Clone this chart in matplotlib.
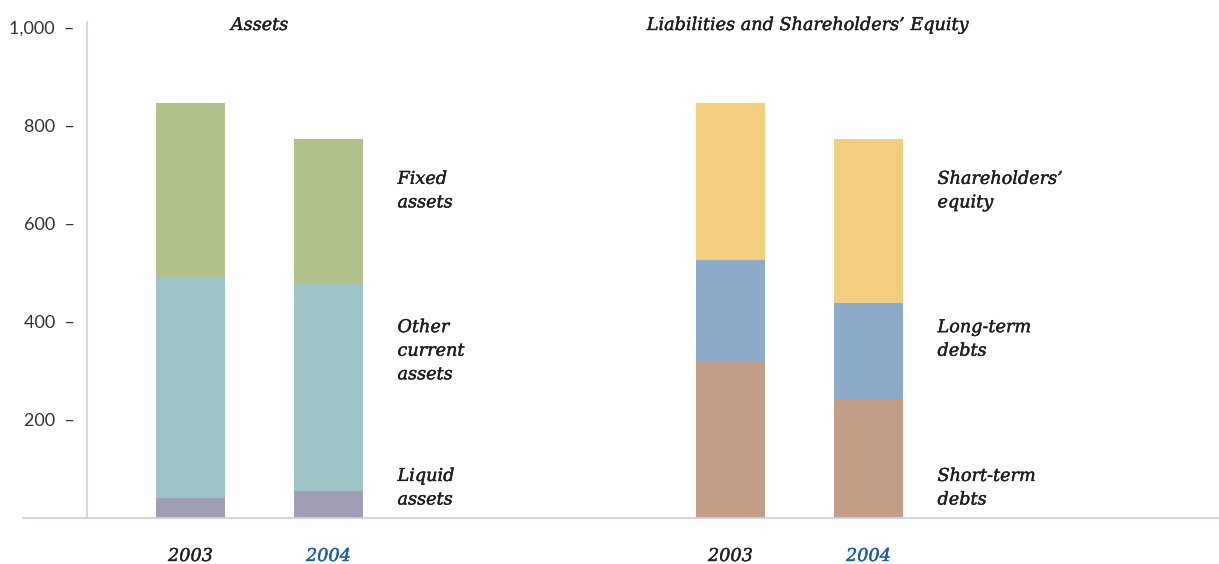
import matplotlib
matplotlib.use("Agg")
import matplotlib.pyplot as plt
import matplotlib.patheffects as pe
from matplotlib.lines import Line2D

# Data (values in millions)
years = ["2003", "2004"]
year_colors = ["#222222", "#1d5ea3"]

assets_titles = "Assets"
liquid_assets = [40, 55]
other_current_assets = [451, 424]
fixed_assets = [354, 293]

liab_title = "Liabilities and Shareholders\u2019 Equity"
short_term_debts = [320, 240]
long_term_debts = [205, 198]
shareholders_equity = [320, 334]

asset_labels = ["Liquid\nassets", "Other\ncurrent\nassets", "Fixed\nassets"]
liab_labels = ["Short-term\ndebts", "Long-term\ndebts", "Shareholders\u2019\nequity"]

y_ticks = [200, 400, 600, 800, 1000]

# Styling
asset_colors = ["#a09db6", "#9dc4c7", "#b0c28a"]
liab_colors = ["#c39e86", "#8caac9", "#f4ce7f"]
label_tops = [104, 407, 709]
group_pos = [0.0, 3.913]
title_shift = [0.0, 0.058]
bar_w = 0.5
heavy = [pe.withStroke(linewidth=0.3, foreground="#1e1e1e")]
serif = dict(family="DejaVu Serif", style="italic", fontsize=12.7, color="#1e1e1e", path_effects=heavy)

fig = plt.figure(figsize=(12.19, 5.64), dpi=100)
ax = fig.add_axes([87 / 1219, 1 - 518 / 564, 1 - 87 / 1219, (518 - 22) / 564])
ax.set_xlim(-0.75, 7.453)
ax.set_ylim(0, 1010)

groups = [
    (group_pos[0], title_shift[0], [liquid_assets, other_current_assets, fixed_assets], asset_colors, asset_labels, assets_titles),
    (group_pos[1], title_shift[1], [short_term_debts, long_term_debts, shareholders_equity], liab_colors, liab_labels, liab_title),
]

for g, ts, series, colors, labels, title in groups:
    xs = [g + i for i in range(len(years))]
    bottoms = [0] * len(years)
    for vals, c in zip(series, colors):
        ax.bar(xs, vals, width=bar_w, bottom=bottoms, color=c, linewidth=0)
        bottoms = [b + v for b, v in zip(bottoms, vals)]
    for lab, yt in zip(labels, label_tops):
        ax.text(g + 1.5, yt, lab, ha="left", va="top", linespacing=1.4, **serif)
    ax.annotate(title, xy=(g + 0.5 + ts, 1.0), xycoords=("data", "axes fraction"), xytext=(0, -3),
                textcoords="offset pixels", ha="center", va="center", **serif)
    for i, (yr, yc) in enumerate(zip(years, year_colors)):
        ax.annotate(yr, xy=(g + i, 0), xycoords=("data", "axes fraction"), xytext=(0, -38),
                    textcoords="offset pixels", ha="center", va="center",
                    family="DejaVu Serif", style="italic", fontsize=12.7, color=yc,
                    path_effects=[pe.withStroke(linewidth=0.3, foreground=yc)])

ax.set_yticks(y_ticks)
ax.set_yticklabels([f"{v:,}  \u2013" for v in y_ticks], fontsize=13, color="#333333", family="Lato")
ax.tick_params(axis="y", length=0, pad=9)
ax.set_xticks([])
for s in ["top", "right", "bottom"]:
    ax.spines[s].set_visible(False)
ax.spines["left"].set_color("#c8d0e6")
ax.spines["left"].set_linewidth(1.2)

# baseline extending left of the axis
fig.add_artist(Line2D([23 / 1219, 1.0], [1 - 518 / 564, 1 - 518 / 564], color="#c8d0e6", linewidth=1.2))

fig.savefig("out.png", dpi=100)
